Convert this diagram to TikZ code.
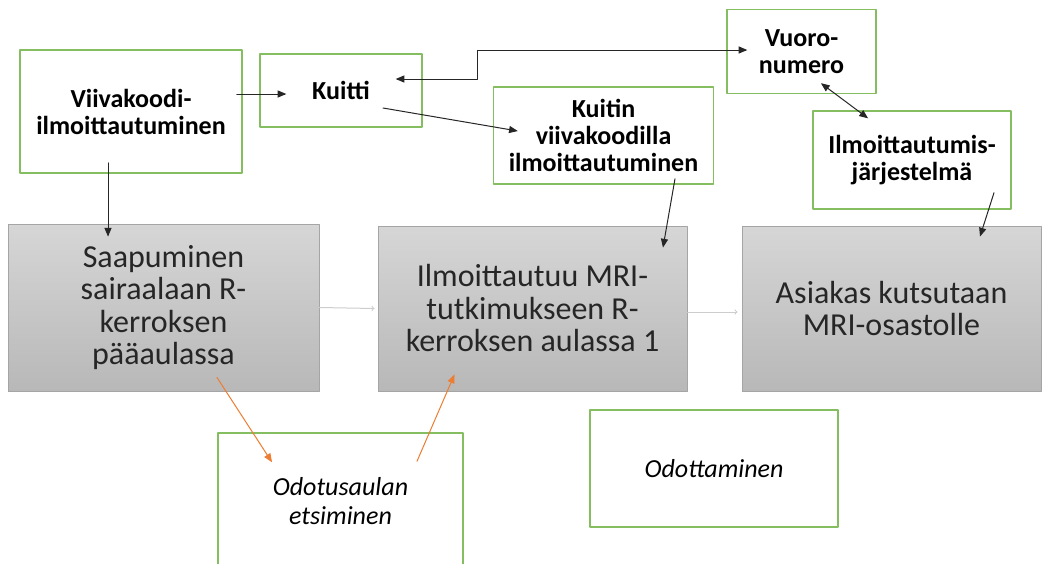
\documentclass[tikz,border=0pt]{standalone}
\usepackage{fontspec}
\setmainfont{Carlito}
\usetikzlibrary{arrows}
\definecolor{boxgreen}{RGB}{132,190,96}
\definecolor{boxline}{RGB}{165,165,165}
\definecolor{boxtop}{RGB}{214,214,214}
\definecolor{boxbottom}{RGB}{184,184,184}
\definecolor{flowgray}{RGB}{205,205,205}
\definecolor{findorange}{RGB}{237,125,49}
\tikzset{
  greenbox/.style={draw=boxgreen,line width=1.5pt,fill=white,align=center,inner sep=0pt,font=\bfseries\fontsize{26}{27}\selectfont},
  notebox/.style={greenbox,font=\itshape\fontsize{26}{29}\selectfont},
  graybox/.style={draw=boxline,line width=1pt,top color=boxtop,bottom color=boxbottom,align=center,inner sep=0pt,text=black!85,font=\fontsize{32}{32.5}\selectfont},
  link/.style={draw=black!85,line width=1pt},
  flow/.style={draw=flowgray,line width=1pt,-to},
  findlink/.style={draw=findorange,line width=1pt,->}
}
\begin{document}
\begin{tikzpicture}[line cap=round,line join=round,>=triangle 45,x=1.0pt,y=-1.0pt]
        \useasboundingbox (0,0) rectangle (1042,563);
        \clip(0,0) rectangle (1042,563);
        \node[greenbox,minimum width=222pt,minimum height=123pt] (viiva) at (131,111.5) {Viivakoodi-\\ilmoittautuminen};
        \node[greenbox,minimum width=162pt,minimum height=73pt] (kuitti) at (341,90.5) {Kuitti};
        \node[greenbox,minimum width=220pt,minimum height=97pt] (kuitinviiva) at (603.5,135.5) {Kuitin\\viivakoodilla\\ilmoittautuminen};
        \node[greenbox,minimum width=149pt,minimum height=84pt] (vuoro) at (801.5,51.5) {Vuoro-\\numero};
        \node[greenbox,minimum width=198pt,minimum height=98pt] (jarjestelma) at (912,160) {Ilmoittautumis-\\järjestelmä};
        \node[graybox,minimum width=311pt,minimum height=167pt] (saapuminen) at (163.5,307.5) {Saapuminen\\sairaalaan R-\\kerroksen\\pääaulassa};
        \node[graybox,minimum width=309pt,minimum height=165pt] (ilmoittautuu) at (532.5,308.5) {Ilmoittautuu MRI-\\tutkimukseen R-\\kerroksen aulassa 1};
        \node[graybox,minimum width=299pt,minimum height=165pt] (asiakas) at (891.5,308.5) {Asiakas kutsutaan\\MRI-osastolle};
        \node[notebox,minimum width=245pt,minimum height=137pt] (odotusaulan) at (340.5,501.5) {Odotusaulan\\etsiminen};
        \node[notebox,minimum width=248pt,minimum height=117pt] (odottaminen) at (714,468.5) {Odottaminen};
        \draw [link,->] ([shift={(-6,-17.5)}]viiva.east)-- ([shift={(27,3.5)}]kuitti.west);
        \draw [link,->] ([shift={(-23,-11)}]viiva.south)-- ([shift={(-55.5,13)}]saapuminen.north);
        \draw [link,<->] ([shift={(-27,-11.5)}]kuitti.east)-- ++(82,0) |- ([shift={(21,-1.5)}]vuoro.west);
        \draw [link,->] ([shift={(42,17.5)}]kuitti.center)-- ([shift={(25,-4.5)}]kuitinviiva.west);
        \draw [link,<->] ([shift={(19.5,-11)}]vuoro.south)-- ([shift={(-44,8)}]jarjestelma.north);
        \draw [link,->] ([shift={(71.5,-6)}]kuitinviiva.south)-- ([shift={(130.5,22)}]ilmoittautuu.north);
        \draw [link,->] ([shift={(82,-17)}]jarjestelma.south)-- ([shift={(88.5,11)}]asiakas.north);
        \draw [flow] (saapuminen.east)-- ([xshift=-3]ilmoittautuu.west);
        \draw [flow] ([shift={(0,3.5)}]ilmoittautuu.east)-- ([shift={(-4,3.5)}]asiakas.west);
        \draw [findlink] ([shift={(53.5,-14)}]saapuminen.south)-- ([shift={(-68.5,30)}]odotusaulan.north);
        \draw [findlink] ([shift={(76.5,29)}]odotusaulan.north)-- ([shift={(-78,-17)}]ilmoittautuu.south);
\end{tikzpicture}
\end{document}
